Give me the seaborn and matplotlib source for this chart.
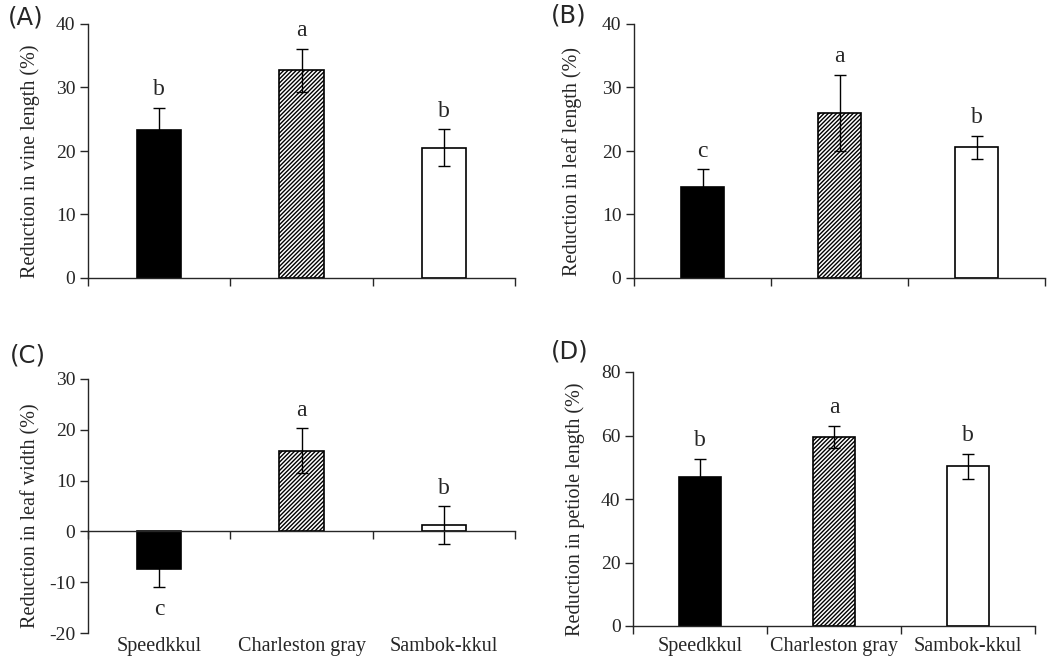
import numpy as np
import seaborn as sns
import matplotlib.pyplot as plt

sns.set_style("ticks")
plt.rcParams['font.family'] = ['Liberation Serif', 'DejaVu Serif']
plt.rcParams['hatch.linewidth'] = 1.0
plt.rcParams['axes.unicode_minus'] = False

cultivars = ["Speedkkul", "Charleston gray", "Sambok-kkul"]

vine_mean = [23.3, 32.7, 20.5]
vine_err = [3.5, 3.4, 2.9]
vine_letters = ["b", "a", "b"]

leaflen_mean = [14.4, 26.0, 20.6]
leaflen_err = [2.7, 6.0, 1.8]
leaflen_letters = ["c", "a", "b"]

leafwid_mean = [-7.35, 15.9, 1.25]
leafwid_err = [3.65, 4.4, 3.7]
leafwid_letters = ["c", "a", "b"]

petiole_mean = [46.9, 59.6, 50.3]
petiole_err = [5.8, 3.4, 4.0]
petiole_letters = ["b", "a", "b"]

panels = [
    ("(A)", vine_mean, vine_err, vine_letters, "Reduction in vine length (%)", (0, 40), 10,
     [88, 278, 427], False),
    ("(B)", leaflen_mean, leaflen_err, leaflen_letters, "Reduction in leaf length (%)", (0, 40), 10,
     [634, 278, 411], False),
    ("(C)", leafwid_mean, leafwid_err, leafwid_letters, "Reduction in leaf width (%)", (-20, 30), 10,
     [88, 633, 427], True),
    ("(D)", petiole_mean, petiole_err, petiole_letters, "Reduction in petiole length (%)", (0, 80), 20,
     [633, 626, 402], True),
]
label_pos = {"(A)": (8, 17), "(B)": (551, 15), "(C)": (10, 356), "(D)": (551, 352)}
ylabel_x = {"(A)": 40, "(B)": 582, "(C)": 40, "(D)": 585}

W, H = 1048, 662
fig = plt.figure(figsize=(W / 100, H / 100), dpi=100)

face = ["black", "white", "white"]
hatches = [None, "////////", None]

for tag, mean, err, letters, ylabel, ylim, step, (x0, ybot, w), show_x in panels:
    ax = fig.add_axes([x0 / W, (H - ybot) / H, w / W, 254 / H])
    sns.barplot(x=cultivars, y=mean, ax=ax, width=0.31, color="white",
                edgecolor="black", linewidth=1.2, errorbar=None)
    for p, fc, h in zip(ax.patches, face, hatches):
        p.set_facecolor(fc)
        if h:
            p.set_hatch(h)
    xs = np.arange(len(cultivars))
    ax.errorbar(xs, mean, yerr=err, fmt="none", ecolor="black",
                elinewidth=1.0, capsize=4.5, capthick=1.0)
    for x, m, e, l in zip(xs, mean, err, letters):
        if m >= 0:
            ax.annotate(l, (x, m + e), xytext=(0, 9), textcoords="offset points",
                        ha="center", va="baseline", fontsize=17)
        else:
            ax.annotate(l, (x, m - e), xytext=(0, -20), textcoords="offset points",
                        ha="center", va="baseline", fontsize=17)

    ax.set_xlim(-0.5, 2.5)
    ax.set_ylim(*ylim)
    ax.set_yticks(np.arange(ylim[0], ylim[1] + 0.1, step))
    ax.tick_params(axis="y", labelsize=14, length=6, width=1, direction="out", pad=3)
    ax.set_ylabel(ylabel, fontsize=14.5)
    ax.yaxis.set_label_coords((ylabel_x[tag] - x0) / w, 0.46)
    ax.set_xlabel("")
    sns.despine(ax=ax)
    for s in ["left", "bottom"]:
        ax.spines[s].set_linewidth(1.0)
    ax.spines["bottom"].set_position(("data", 0))

    ax.set_xticks([-0.5, 0.5, 1.5, 2.5])
    ax.set_xticklabels([])
    ax.tick_params(axis="x", length=6, width=1, direction="out")
    if show_x:
        for x, c in zip(xs, cultivars):
            xf = (fig.transFigure.inverted().transform(ax.transData.transform((x, 0))))[0]
            fig.text(xf, 1 - 637 / H, c, ha="center", va="top", fontsize=14.5)

    lx, ly = label_pos[tag]
    fig.text(lx / W, 1 - ly / H, tag, fontsize=17.5, family="DejaVu Sans",
             ha="left", va="center")

fig.savefig("out.png", dpi=100)
